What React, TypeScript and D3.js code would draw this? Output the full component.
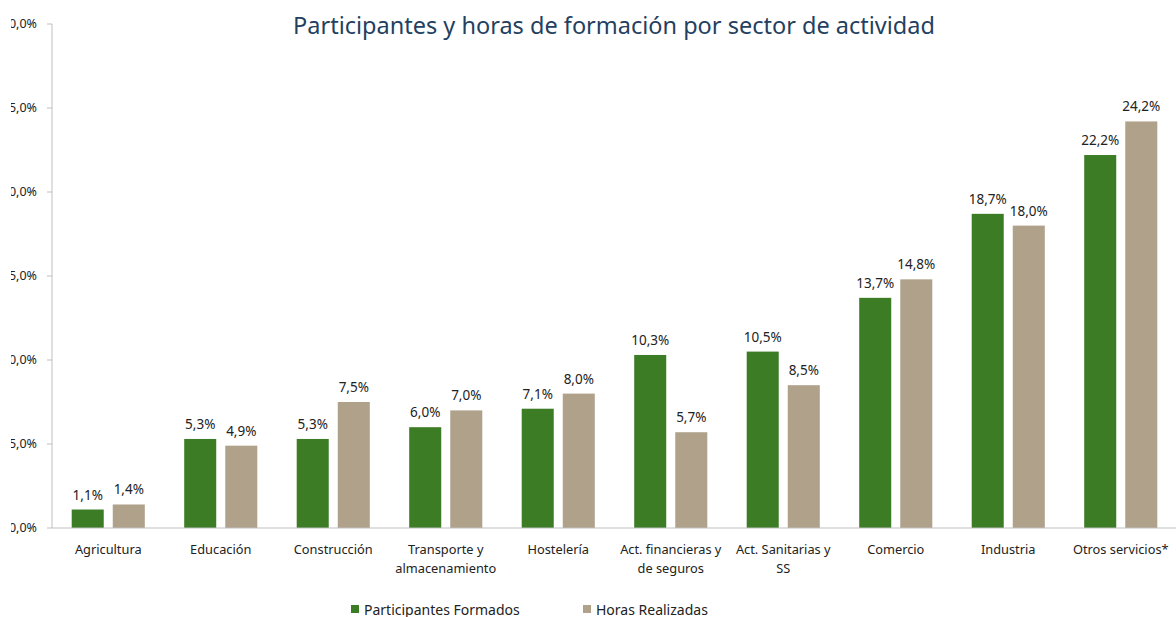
import * as d3 from "d3";

const categories = [
  ["Agricultura"],
  ["Educación"],
  ["Construcción"],
  ["Transporte y", "almacenamiento"],
  ["Hostelería"],
  ["Act. financieras y", "de seguros"],
  ["Act. Sanitarias y", "SS"],
  ["Comercio"],
  ["Industria"],
  ["Otros servicios*"],
];
const participantes = [1.1, 5.3, 5.3, 6.0, 7.1, 10.3, 10.5, 13.7, 18.7, 22.2];
const horas = [1.4, 4.9, 7.5, 7.0, 8.0, 5.7, 8.5, 14.8, 18.0, 24.2];
const seriesNames = ["Participantes Formados", "Horas Realizadas"];
const yTicks = [0, 5, 10, 15, 20, 25, 30];

const COLORS = ["#3B7C24", "#AFA18A"];
const FONT = "'Noto Sans', 'DejaVu Sans', sans-serif";

const fmt = (v: number) => v.toFixed(1).replace(".", ",") + "%";

export default function App() {
  const width = 1176;
  const height = 617;
  const left = 52;
  const base = 528;

  const keys = categories.map((c) => c.join(" "));
  const x0 = d3.scaleBand<string>().domain(keys).range([left, 1177]).padding(0);
  const x1 = d3
    .scaleBand<number>()
    .domain([0, 1])
    .range([0, x0.bandwidth()])
    .paddingInner(0.22)
    .paddingOuter(0.48);
  const y = d3.scaleLinear().domain([0, 30]).range([base, 24]);

  const series = [participantes, horas];

  return (
    <svg
      width={width}
      height={height}
      style={{ position: "absolute", left: 0, top: 0, background: "#fff" }}
      fontFamily={FONT}
    >
      <defs>
        <clipPath id="leftClip">
          <rect x={11} y={0} width={60} height={height} />
        </clipPath>
      </defs>

      <text x={614} y={34} textAnchor="middle" fontSize={23.5} fill="#243F60">
        Participantes y horas de formación por sector de actividad
      </text>

      {/* y axis */}
      <line x1={left} x2={left} y1={y(30)} y2={base} stroke="#BFBFBF" />
      <g clipPath="url(#leftClip)">
        {yTicks.map((t) => (
          <g key={t}>
            <line x1={left - 5} x2={left} y1={y(t)} y2={y(t)} stroke="#BFBFBF" />
            <text
              x={37}
              y={y(t)}
              dy="0.35em"
              textAnchor="end"
              fontSize={12.5}
              fill="#222"
            >
              {fmt(t)}
            </text>
          </g>
        ))}
      </g>

      {/* bars */}
      {keys.map((k, i) => (
        <g key={k} transform={`translate(${x0(k)},0)`}>
          {series.map((s, j) => (
            <g key={j}>
              <rect
                x={x1(j)}
                y={y(s[i])}
                width={x1.bandwidth()}
                height={base - y(s[i])}
                fill={COLORS[j]}
              />
              <text
                x={(x1(j) ?? 0) + x1.bandwidth() / 2}
                y={y(s[i]) - 10}
                textAnchor="middle"
                fontSize={13.5}
                fill="#222"
              >
                {fmt(s[i])}
              </text>
            </g>
          ))}
        </g>
      ))}

      {/* x axis */}
      <line x1={left} x2={width} y1={base} y2={base} stroke="#BFBFBF" />
      {categories.map((lines, i) => (
        <text
          key={i}
          x={(x0(keys[i]) ?? 0) + x0.bandwidth() / 2}
          y={554}
          textAnchor="middle"
          fontSize={12.8}
          fill="#222"
        >
          {lines.map((l, li) => (
            <tspan key={li} x={(x0(keys[i]) ?? 0) + x0.bandwidth() / 2} dy={li === 0 ? 0 : 19}>
              {l}
            </tspan>
          ))}
        </text>
      ))}

      {/* legend */}
      {seriesNames.map((n, j) => (
        <g key={n} transform={`translate(${j === 0 ? 351 : 583},605)`}>
          <rect x={0} y={0} width={8} height={8} fill={COLORS[j]} />
          <text x={13} y={9.5} fontSize={14} fill="#222">
            {n}
          </text>
        </g>
      ))}
    </svg>
  );
}
